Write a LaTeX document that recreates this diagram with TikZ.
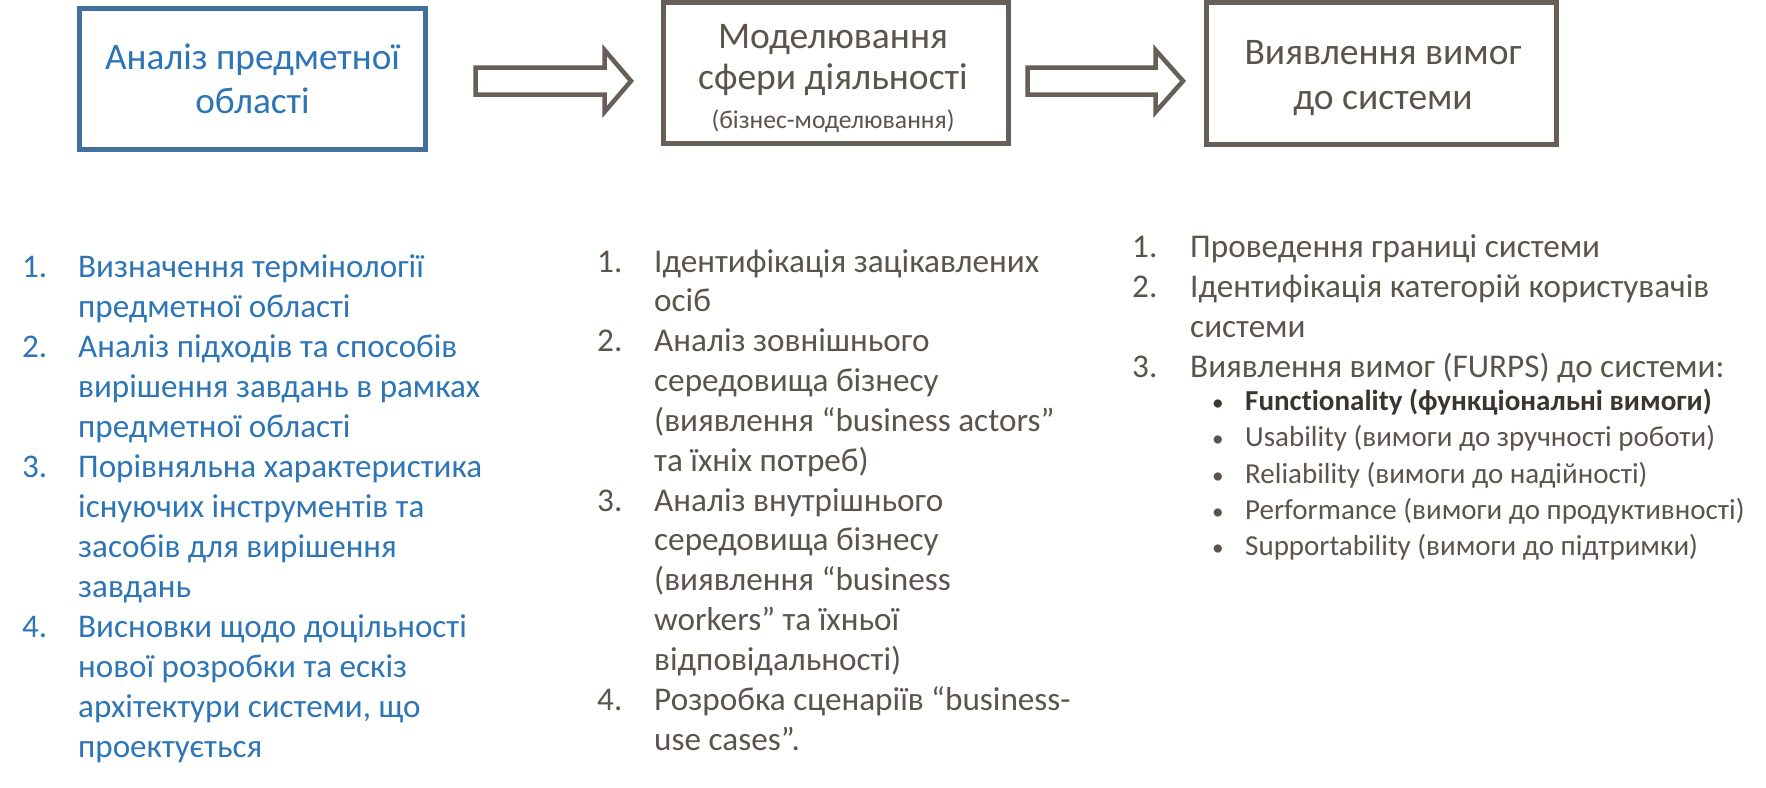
\documentclass[tikz,border=0pt]{standalone}
\usepackage{fontspec}
\setmainfont{Carlito}[Ligatures={NoCommon}]
\definecolor{bluebrd}{HTML}{41719C}
\definecolor{bluetxt}{HTML}{2E75B6}
\definecolor{graybrd}{HTML}{675F57}
\definecolor{graytxt}{HTML}{5B544C}
\definecolor{darktxt}{HTML}{3A3530}
\newlength\mywd
\newcommand\fitsize[3]{\settowidth\mywd{\fontsize{10}{12}\selectfont #3}\pgfmathsetmacro#1{10*#2/\mywd}}
\tikzset{
  boxblue/.style={draw=bluebrd, line width=5pt, fill=white, inner sep=0pt},
  boxgray/.style={draw=graybrd, line width=5pt, fill=white, inner sep=0pt},
  blockarrow/.style={draw=graybrd, line width=4.5pt, fill=white, line join=miter},
  ttlA/.style={anchor=base, inner sep=0pt, text=bluetxt, font=\fontsize{\szA}{\szA}\selectfont},
  ttlB/.style={anchor=base, inner sep=0pt, text=graytxt, font=\fontsize{\szB}{\szB}\selectfont},
  ttlC/.style={anchor=base, inner sep=0pt, text=graytxt, font=\fontsize{\szC}{\szC}\selectfont},
  lline/.style={anchor=base west, inner sep=0pt, text=bluetxt, font=\fontsize{\szL}{\szL}\selectfont},
  mline/.style={anchor=base west, inner sep=0pt, text=graytxt, font=\fontsize{\szM}{\szM}\selectfont},
  sline/.style={anchor=base west, inner sep=0pt, text=graytxt, font=\fontsize{\szS}{\szS}\selectfont},
  bullet/.style={anchor=base, inner sep=0pt, font=\fontsize{0.8*\szS}{\szS}\selectfont},
}
\begin{document}
\fitsize\szL{404}{Порівняльна характеристика}%
\fitsize\szM{385}{Ідентифікація зацікавлених}%
\fitsize\szS{470}{Usability (вимоги до зручності роботи)}%
\fitsize\szA{295}{Аналіз предметної}%
\fitsize\szB{277}{Виявлення вимог}%
\fitsize\szC{243}{(бізнес-моделювання)}%
\pgfmathsetmacro\szBul{0.8*\szS}%
\begin{tikzpicture}[x=1pt,y=-1pt]
\useasboundingbox[fill=white] (0,0) rectangle (1766,787);

% boxes
\node[boxblue, minimum width=346pt, minimum height=141pt] (b1) at (252.5,79) {};
\node[boxgray, minimum width=344.5pt, minimum height=140.5pt] (b2) at (835.75,72.75) {};
\node[boxgray, minimum width=350pt, minimum height=141.5pt] (b3) at (1381.5,73.25) {};

\node[ttlA] (t1a) at (252.5,69) {Аналіз предметної};
\node[ttlA] (t1b) at (252.5,113) {області};
\node[ttlB] (t2a) at (833,48.5) {Моделювання};
\node[ttlB] (t2b) at (833,89.5) {сфери діяльності};
\node[ttlC] (t2c) at (833,128) {(бізнес-моделювання)};
\node[ttlB] (t3a) at (1383,64.5) {Виявлення вимог};
\node[ttlB] (t3b) at (1383,109) {до системи};

% block arrows
\draw[blockarrow] (475.5,67.5) -- (604.5,67.5) -- (604.5,50) -- (631,81) -- (604.5,112) -- (604.5,94.5) -- (475.5,94.5) -- cycle;
\draw[blockarrow] (1027.5,67.5) -- (1155.5,67.5) -- (1155.5,50) -- (1183,81) -- (1155.5,112) -- (1155.5,94.5) -- (1027.5,94.5) -- cycle;

% left list
\foreach \t [count=\i from 0] in {Визначення термінології, предметної області, Аналіз підходів та способів, вирішення завдань в рамках, предметної області, Порівняльна характеристика, існуючих інструментів та, засобів для вирішення, завдань, Висновки щодо доцільності, нової розробки та ескіз, {архітектури системи, що}, проектується}
  \node[lline] (L\i) at (78,{277+40*\i}) {\t};
\foreach \n/\k in {1/0,2/2,3/5,4/9}
  \node[lline] (LN\n) at (22,{277+40*\k}) {\n.};

% middle list
\foreach \t [count=\i from 0] in {Ідентифікація зацікавлених, осіб, Аналіз зовнішнього, середовища бізнесу, {(виявлення “business actors”}, {та їхніх потреб)}, Аналіз внутрішнього, середовища бізнесу, {(виявлення “business}, {workers” та їхньої}, {відповідальності)}, Розробка сценаріїв “business-, use cases”.}
  \node[mline] (M\i) at (654,{272+39.85*\i}) {\t};
\foreach \n/\k in {1/0,2/2,3/6,4/11}
  \node[mline] (MN\n) at (597,{272+39.85*\k}) {\n.};

% right list
\node[mline] (RN1) at (1132,257) {1.};
\node[mline] (R1) at (1190,257) {Проведення границі системи};
\node[mline] (RN2) at (1132,297) {2.};
\node[mline] (R2) at (1190,297) {Ідентифікація категорій користувачів};
\node[mline] (R3) at (1190,337) {системи};
\node[mline] (RN3) at (1132,377) {3.};
\node[mline] (R4) at (1190,377) {Виявлення вимог (FURPS) до системи:};
\node[sline, text=darktxt, font=\fontsize{\szS}{\szS}\selectfont\bfseries] (S1) at (1245,410) {Functionality (функціональні вимоги)};
\node[sline] (S2) at (1245,446.5) {Usability (вимоги до зручності роботи)};
\node[sline] (S3) at (1245,483) {Reliability (вимоги до надійності)};
\node[sline] (S4) at (1245,519) {Performance (вимоги до продуктивності)};
\node[sline] (S5) at (1245,555.5) {Supportability (вимоги до підтримки)};
\foreach \y/\c [count=\i] in {410/darktxt,446.5/graytxt,483/graytxt,519/graytxt,555.5/graytxt}
  \node[anchor=base, inner sep=0pt, text=\c, font=\fontsize{\szBul}{\szBul}\selectfont] (SB\i) at (1218,\y) {•};
\end{tikzpicture}
\end{document}
